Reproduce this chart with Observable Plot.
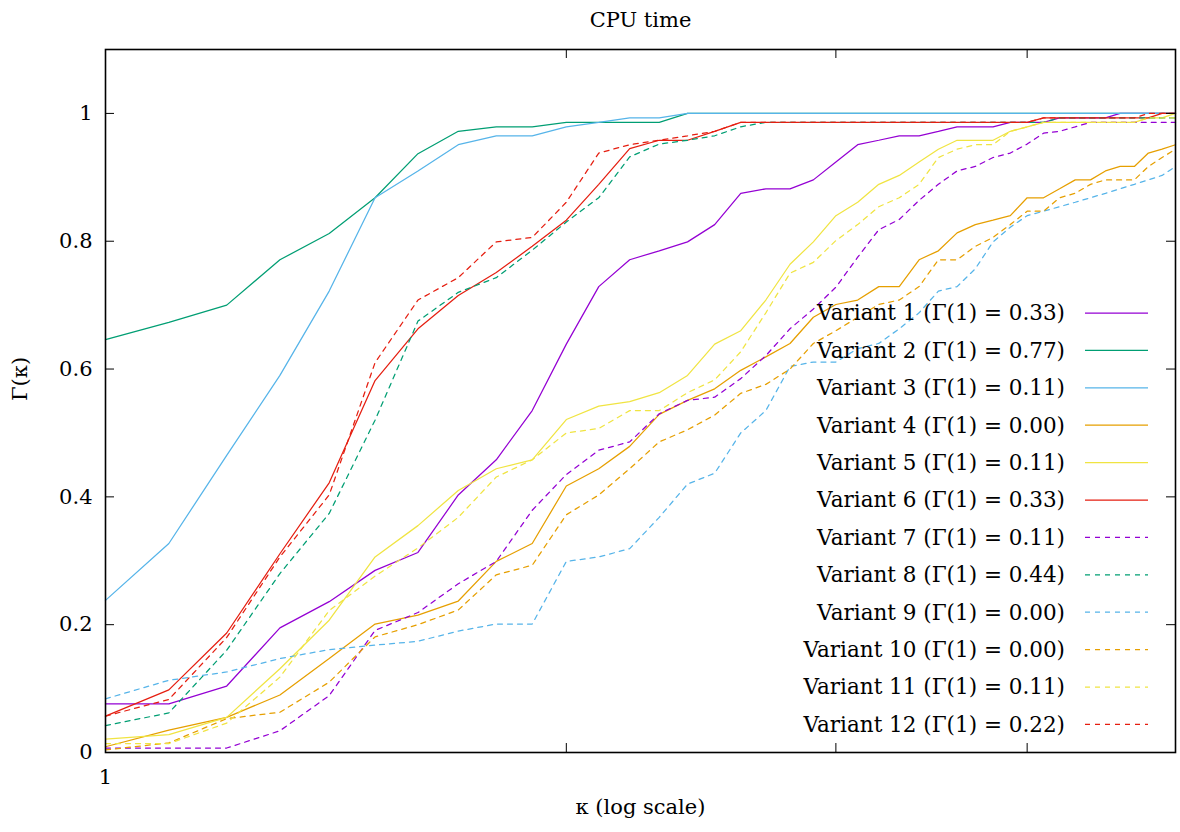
<!DOCTYPE html>
<html><head><meta charset="utf-8">
<script src="https://cdn.jsdelivr.net/npm/d3@7"></script>
<script src="https://cdn.jsdelivr.net/npm/@observablehq/plot@0.6"></script>
<style>
body{margin:0;background:#fff;}
#chart{width:1180px;height:832px;}
</style></head><body><div id="chart"></div>
<script>
const kappa = [1.0,1.1,1.2,1.3,1.4,1.5,1.6,1.7,1.8,1.9,2.0,2.1,2.2,2.3,2.4,2.5,2.6,2.7,2.8,2.9,3.0,3.1,3.2,3.3,3.4,3.5,3.6,3.7,3.8,3.9,4.0,4.1,4.2,4.3,4.4,4.5,4.6,4.7,4.8,4.9,5.0];

const v1 = [0.076,0.076,0.104,0.195,0.236,0.285,0.313,0.403,0.458,0.535, 0.639,0.729,0.771,0.785,0.799,0.826,0.875,0.882,0.882,0.896, 0.924,0.951,0.958,0.965,0.965,0.972,0.979,0.979,0.979,0.986, 0.986,0.986,0.993,0.993,0.993,0.993,1,1,1,1,1];
const v2 = [0.646,0.673,0.700,0.771,0.812,0.868,0.937,0.972,0.979,0.979, 0.986,0.986,0.986,0.986,1,1,1,1,1,1, 1,1,1,1,1,1,1,1,1,1, 1,1,1,1,1,1,1,1,1,1,1];
const v3 = [0.238,0.327,0.465,0.590,0.722,0.868,0.910,0.951,0.965,0.965, 0.979,0.986,0.993,0.993,1,1,1,1,1,1, 1,1,1,1,1,1,1,1,1,1, 1,1,1,1,1,1,1,1,1,1,1];
const v4 = [0.009,0.035,0.055,0.090,0.147,0.201,0.215,0.237,0.299,0.327, 0.417,0.444,0.479,0.529,0.551,0.569,0.598,0.619,0.640,0.681, 0.701,0.708,0.729,0.729,0.771,0.785,0.813,0.826,0.833,0.840, 0.868,0.868,0.882,0.896,0.896,0.910,0.917,0.917,0.938,0.944,0.951];
const v5 = [0.021,0.028,0.055,0.131,0.207,0.306,0.355,0.410,0.444,0.458, 0.521,0.542,0.549,0.563,0.590,0.639,0.660,0.708,0.764,0.799, 0.840,0.861,0.889,0.903,0.924,0.944,0.958,0.958,0.958,0.972, 0.979,0.986,0.986,0.986,0.986,0.986,0.986,0.986,0.993,0.993,1];
const v6 = [0.057,0.098,0.187,0.311,0.422,0.582,0.663,0.715,0.751,0.792, 0.833,0.889,0.945,0.958,0.958,0.972,0.986,0.986,0.986,0.986, 0.986,0.986,0.986,0.986,0.986,0.986,0.986,0.986,0.986,0.986, 0.986,0.993,0.993,0.993,0.993,0.993,0.993,0.993,0.993,1,1];
const v7 = [0.007,0.007,0.007,0.034,0.089,0.191,0.219,0.264,0.299,0.379, 0.435,0.473,0.486,0.530,0.551,0.556,0.585,0.621,0.663,0.694, 0.728,0.775,0.818,0.834,0.864,0.889,0.910,0.917,0.931,0.938, 0.952,0.969,0.972,0.979,0.986,0.986,0.986,0.986,0.986,0.986,0.986];
const v8 = [0.042,0.062,0.160,0.280,0.374,0.520,0.675,0.720,0.743,0.786, 0.830,0.868,0.932,0.952,0.958,0.965,0.979,0.986,0.986,0.986, 0.986,0.986,0.986,0.986,0.986,0.986,0.986,0.986,0.986,0.986, 0.986,0.986,0.993,0.993,0.993,0.993,0.993,0.993,0.993,0.993,0.993];
const v9 = [0.084,0.113,0.126,0.147,0.161,0.168,0.174,0.190,0.201,0.201, 0.299,0.306,0.319,0.368,0.420,0.437,0.500,0.535,0.604,0.611, 0.611,0.632,0.640,0.663,0.688,0.722,0.729,0.757,0.799,0.822, 0.840,0.847,0.854,0.861,0.868,0.875,0.882,0.889,0.896,0.903,0.917];
const v10 = [0.004,0.015,0.053,0.063,0.110,0.181,0.200,0.223,0.278,0.293, 0.372,0.403,0.444,0.486,0.505,0.528,0.562,0.576,0.600,0.640, 0.660,0.681,0.701,0.708,0.729,0.771,0.771,0.792,0.806,0.826, 0.847,0.847,0.868,0.875,0.889,0.896,0.896,0.896,0.917,0.931,0.944];
const v11 = [0.014,0.014,0.046,0.118,0.222,0.276,0.320,0.368,0.431,0.458, 0.500,0.507,0.535,0.535,0.563,0.583,0.627,0.688,0.750,0.767, 0.801,0.826,0.854,0.868,0.889,0.931,0.944,0.951,0.951,0.972, 0.979,0.986,0.986,0.986,0.986,0.986,0.986,0.986,0.993,0.993,0.993];
const v12 = [0.057,0.083,0.180,0.306,0.403,0.610,0.708,0.743,0.799,0.806, 0.861,0.938,0.951,0.958,0.965,0.972,0.986,0.986,0.986,0.986, 0.986,0.986,0.986,0.986,0.986,0.986,0.986,0.986,0.986,0.986, 0.986,0.993,0.993,0.993,0.993,0.993,0.993,0.993,1,1,1];

const names = ["Variant 1","Variant 2","Variant 3","Variant 4","Variant 5","Variant 6","Variant 7","Variant 8","Variant 9","Variant 10","Variant 11","Variant 12"];
const gammaAt1 = ["0.33","0.77","0.11","0.00","0.11","0.33","0.11","0.44","0.00","0.00","0.11","0.22"];
const colors = ["#9400d3","#009e73","#56b4e9","#e69f00","#f0e442","#e51e10","#9400d3","#009e73","#56b4e9","#e69f00","#f0e442","#e51e10"];
const dashed = [false,false,false,false,false,false,true,true,true,true,true,true];
const yTicks = [0,0.2,0.4,0.6,0.8,1];
const xMinorTicks = [2,3,4];
const xLabelTicks = [1];

const series = [v1,v2,v3,v4,v5,v6,v7,v8,v9,v10,v11,v12];

const W = 1180, H = 832, ML = 105, MR = 5, MT = 49, MB = 80;
const PW = W - ML - MR, PH = H - MT - MB;
const FONT = "DejaVu Serif";
const TL = 9;

const lineMarks = series.map((vals, i) => Plot.line(
  vals.map((g, j) => ({k: kappa[j], g})),
  {x: "k", y: "g", stroke: colors[i], strokeWidth: 1.25,
   strokeDasharray: dashed[i] ? "5,5" : null, strokeLinejoin: "miter"}
));

const svg = Plot.plot({
  width: W, height: H,
  marginLeft: ML, marginRight: MR, marginTop: MT, marginBottom: MB,
  style: {fontFamily: FONT, fontSize: "21px", background: "#fff", color: "#000"},
  x: {type: "log", domain: [1, 5], axis: null, label: null},
  y: {domain: [0, 1.1], axis: null, label: null},
  marks: [
    ...lineMarks,
    Plot.tickY(yTicks, {y: d => d, insetRight: PW - TL, stroke: "#000", strokeWidth: 1}),
    Plot.tickY(yTicks, {y: d => d, insetLeft: PW - TL, stroke: "#000", strokeWidth: 1}),
    Plot.tickX(xMinorTicks, {x: d => d, insetTop: PH - TL, stroke: "#000", strokeWidth: 1}),
    Plot.tickX(xMinorTicks, {x: d => d, insetBottom: PH - TL, stroke: "#000", strokeWidth: 1}),
    Plot.axisY(yTicks, {tickSize: 0, tickPadding: 13, fontSize: 21, fontFamily: FONT, label: null,
      tickFormat: d => (d === 0 ? "0" : d === 1 ? "1" : d.toFixed(1)), fill: "#000"}),
    Plot.axisX(xLabelTicks, {tickSize: 0, tickPadding: 17, fontSize: 21, fontFamily: FONT, label: null,
      tickFormat: d => String(d), fill: "#000"}),
    Plot.frame({stroke: "#000", strokeWidth: 1.6}),
    Plot.text(["CPU time"], {frameAnchor: "top", dy: -37, fontSize: 21, fontFamily: FONT, fill: "#000"}),
    Plot.text(["Γ(κ)"], {frameAnchor: "left", dx: -85, rotate: -90, fontSize: 21, fontFamily: FONT, fill: "#000"}),
    Plot.text(["κ (log scale)"], {frameAnchor: "bottom", dy: 61, fontSize: 21, fontFamily: FONT, fill: "#000"})
  ]
});

// legend (layout only)
const leg = d3.select(svg).append("g");
const rowY0 = 313, rowStep = 37.4, textRight = 1065, swX1 = 1085, swX2 = 1148;
names.forEach((n, i) => {
  const y = rowY0 + i * rowStep;
  leg.append("text").attr("x", textRight).attr("y", y).attr("dy", "0.34em")
    .attr("text-anchor", "end").attr("fill", "#000")
    .style("font-family", FONT).style("font-size", "21.5px")
    .text(`${n} (Γ(1) = ${gammaAt1[i]})`);
  leg.append("line").attr("x1", swX1).attr("x2", swX2).attr("y1", y).attr("y2", y)
    .attr("stroke", colors[i]).attr("stroke-width", 1.25)
    .attr("stroke-dasharray", dashed[i] ? "5,5" : null);
});

document.getElementById("chart").appendChild(svg);
</script>
</body></html>
